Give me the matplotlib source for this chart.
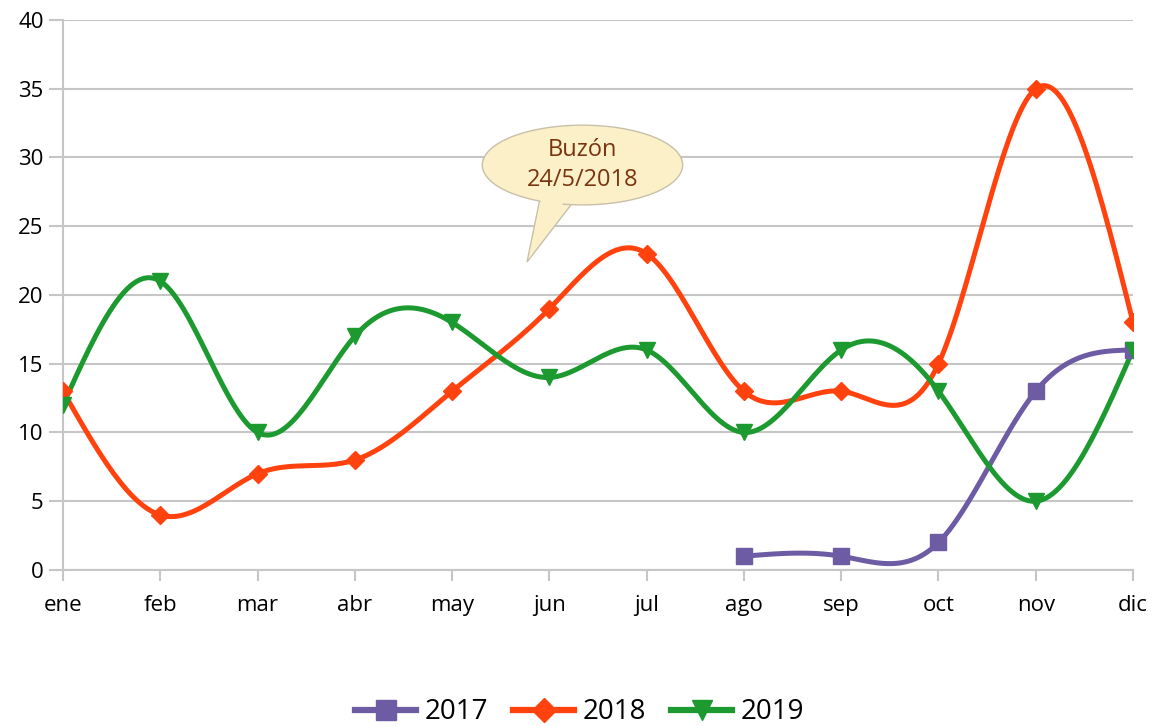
import numpy as np
import matplotlib.pyplot as plt
from matplotlib.patches import Ellipse, Polygon

# data
months = ['ene', 'feb', 'mar', 'abr', 'may', 'jun', 'jul', 'ago', 'sep', 'oct', 'nov', 'dic']
y2017 = [1, 1, 2, 13, 16]          # ago..dic
y2018 = [13, 4, 7, 8, 13, 19, 23, 13, 13, 15, 35, 18]
y2019 = [12, 21, 10, 17, 18, 14, 16, 10, 16, 13, 5, 16]


def spline(x, y, n=30):
    # natural cubic spline, just like the smooth lines in the office chart
    x = np.asarray(x, float)
    y = np.asarray(y, float)
    k = len(x)
    h = np.diff(x)
    A = np.zeros((k, k))
    b = np.zeros(k)
    A[0, 0] = A[-1, -1] = 1
    for i in range(1, k - 1):
        A[i, i - 1] = h[i - 1]
        A[i, i] = 2 * (h[i - 1] + h[i])
        A[i, i + 1] = h[i]
        b[i] = 6 * ((y[i + 1] - y[i]) / h[i] - (y[i] - y[i - 1]) / h[i - 1])
    M = np.linalg.solve(A, b)
    xs, ys = [], []
    for i in range(k - 1):
        t = np.linspace(x[i], x[i + 1], n)
        a = x[i + 1] - t
        c = t - x[i]
        s = (M[i] * a**3 + M[i + 1] * c**3) / (6 * h[i]) \
            + (y[i] / h[i] - M[i] * h[i] / 6) * a + (y[i + 1] / h[i] - M[i + 1] * h[i] / 6) * c
        xs.extend(t)
        ys.extend(s)
    return np.array(xs), np.array(ys)


plt.rcParams['font.family'] = ['Open Sans', 'DejaVu Sans']

fig = plt.figure(figsize=(11.59, 7.26), dpi=100)
ax = fig.add_axes([0.0544, 0.2149, 0.9232, 0.7576])

x_all = np.arange(len(months))
series = [
    ('2017', x_all[7:], y2017, '#6d5ba3', 's', 11),
    ('2018', x_all, y2018, '#ff420e', 'D', 9),
    ('2019', x_all, y2019, '#1c9a30', 'v', 12),
]
for name, xv, yv, col, mk, ms in series:
    sx, sy = spline(xv, yv)
    ax.plot(sx, sy, color=col, lw=3.6, zorder=3)
    ax.plot(xv, yv, ls='none', marker=mk, ms=ms, color=col, zorder=4)
    ax.plot([], [], color=col, lw=4.5, marker=mk, ms=ms + 3, label=name)

ax.set_xlim(0, 11)
ax.set_ylim(0, 40)
ax.set_yticks(range(0, 41, 5))
ax.set_xticks(x_all)
ax.set_xticklabels(months)
ax.yaxis.grid(True, color='#c6c6c6', lw=1.5)
ax.set_axisbelow(True)
for s in ['top', 'right']:
    ax.spines[s].set_visible(False)
for s in ['left', 'bottom']:
    ax.spines[s].set_color('#c6c6c6')
    ax.spines[s].set_linewidth(1.5)
ax.tick_params(colors='#c6c6c6', labelcolor='black', labelsize=16, width=1.5)
ax.tick_params(axis='y', length=10, pad=4)
ax.tick_params(axis='x', length=8, pad=10)

# speech bubble callout
fill = '#fbf0c8'
edge = '#c8c0a8'
tail = [(4.90, 26.9), (4.77, 22.4), (5.26, 26.9)]
ax.add_patch(Polygon(tail, closed=True, fc=fill, ec=edge, lw=1, zorder=5, clip_on=False))
ax.add_patch(Ellipse((5.34, 29.45), 2.06, 5.8, fc=fill, ec=edge, lw=1, zorder=6, clip_on=False))
ax.add_patch(Polygon([(4.93, 27.6), (4.79, 22.6), (5.22, 27.6)], closed=True, fc=fill,
                     ec='none', zorder=7, clip_on=False))
ax.text(5.34, 29.45, 'Buzón\n24/5/2018', ha='center', va='center', fontsize=17,
        fontweight='medium', color='#7a3510', linespacing=1.3, zorder=8)

fig.legend(loc='lower center', bbox_to_anchor=(0.5, -0.035), ncol=3, frameon=False,
           fontsize=20, handlelength=2.2, columnspacing=0.9, handletextpad=0.3)

fig.savefig('out.png', dpi=100)
